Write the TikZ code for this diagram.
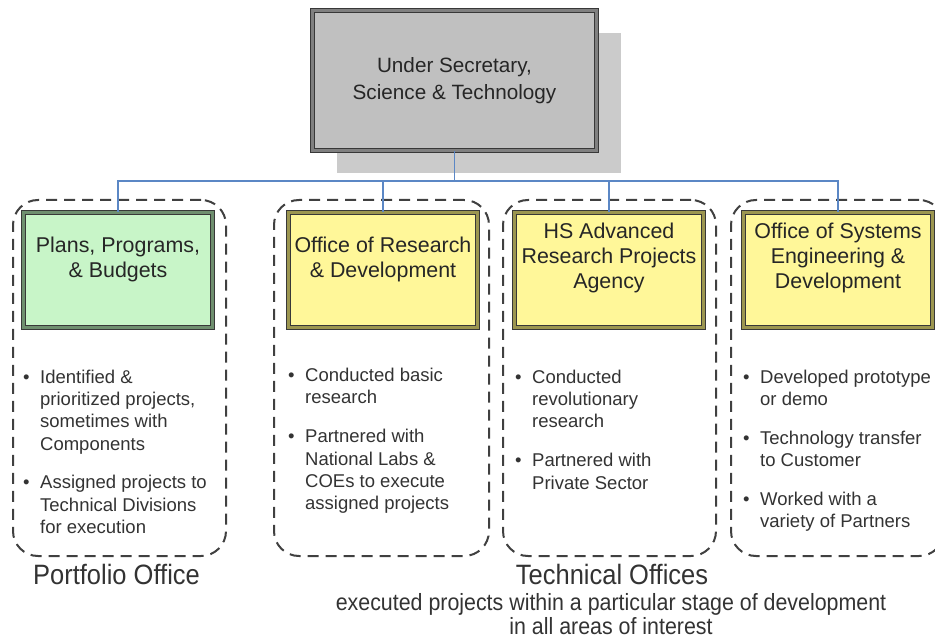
\documentclass[tikz,border=0pt]{standalone}
\usepackage{fontspec}
\setmainfont{Liberation Sans}
\newfontfamily\narrowfont[FakeStretch=0.91]{Liberation Sans}
\usetikzlibrary{shadows}
\definecolor{linkblue}{HTML}{5B87C5}
\definecolor{topfill}{HTML}{C0C0C0}
\definecolor{shadowgray}{HTML}{CBCBCB}
\definecolor{plangreen}{HTML}{C8F5C8}
\definecolor{planrim}{HTML}{6F8F6F}
\definecolor{techyellow}{HTML}{FFF799}
\definecolor{techrim}{HTML}{9C9650}
\definecolor{rimdark}{HTML}{383838}
\begin{document}
\begin{tikzpicture}[x=1pt,y=-1pt,
  office/.style={draw=rimdark,line width=1pt,double distance=3pt,minimum width=189pt,minimum height=115pt,inner sep=0pt},
  title/.style={align=center,font=\fontsize{21.4}{25}\selectfont,text=black!85},
  group/.style={draw=black!75,line width=2pt,dash pattern=on 11pt off 7pt,rounded corners=25pt,minimum width=213pt,minimum height=356pt,inner sep=0pt},
  duties/.style={anchor=base west,inner sep=0pt,font=\fontsize{18.5}{22.4}\selectfont,text=black!80},
  link/.style={draw=linkblue,line width=1.5pt},
  caption/.style={font=\narrowfont\fontsize{28}{30}\selectfont,text=black!80}]

  \clip (0,0) rectangle (935,639);
  \fill[white] (0,0) rectangle (935,639);

  % dashed groups
  \node[group] (g1) at (119.5,378) {};
  \node[group,minimum width=215pt] (g2) at (381.5,378) {};
  \node[group] (g3) at (609.5,378) {};
  \node[group] (g4) at (837.5,378) {};

  % head office
  \node[office,minimum width=284pt,minimum height=140pt,double=black!50,fill=topfill,
    drop shadow={shadow xshift=24pt,shadow yshift=-23pt,fill=shadowgray,opacity=1}] (usst) at (454.5,80.5) {};
  \node[title,font=\fontsize{20.7}{27}\selectfont] (usstname) at (454.5,80.5) {Under Secretary,\\Science \& Technology};

  % offices
  \node[office,fill=plangreen,double=planrim] (ppb) at (118,270) {};
  \node[office,fill=techyellow,double=techrim] (ord) at (383,270) {};
  \node[office,fill=techyellow,double=techrim] (arpa) at (609,270) {};
  \node[office,fill=techyellow,double=techrim] (osed) at (838,270) {};

  \path[link]
    (usst.south) -- ++(0,30) -| (ppb.north)
    (usst.south) -- ++(0,30) -| (ord.north)
    (usst.south) -- ++(0,30) -| (arpa.north)
    (usst.south) -- ++(0,30) -| (osed.north);

  \node[title] (ppbname) at (118,259) {Plans, Programs,\\\& Budgets};
  \node[title] (ordname) at (383,259) {Office of Research\\\& Development};
  \node[title] (arpaname) at (609,258) {HS Advanced\\Research Projects\\Agency};
  \node[title] (osedname) at (838,258) {Office of Systems\\Engineering \&\\Development};

  % duties
  \node[duties] (ppblist) at (23,383) {\begin{tabular}[t]{@{}l@{\hspace{10.5pt}}l@{}}
    \textbullet & Identified \&\\ & prioritized projects,\\ & sometimes with\\ & Components\\[16pt]
    \textbullet & Assigned projects to\\ & Technical Divisions\\ & for execution\end{tabular}};
  \node[duties] (ordlist) at (288,381) {\begin{tabular}[t]{@{}l@{\hspace{10.5pt}}l@{}}
    \textbullet & Conducted basic\\ & research\\[17pt]
    \textbullet & Partnered with\\ & National Labs \&\\ & COEs to execute\\ & assigned projects\end{tabular}};
  \node[duties] (arpalist) at (515,383) {\begin{tabular}[t]{@{}l@{\hspace{10.5pt}}l@{}}
    \textbullet & Conducted\\ & revolutionary\\ & research\\[16.5pt]
    \textbullet & Partnered with\\ & Private Sector\end{tabular}};
  \node[duties] (osedlist) at (743,383) {\begin{tabular}[t]{@{}l@{\hspace{10.5pt}}l@{}}
    \textbullet & Developed prototype\\ & or demo\\[16.5pt]
    \textbullet & Technology transfer\\ & to Customer\\[16pt]
    \textbullet & Worked with a\\ & variety of Partners\end{tabular}};

  % captions
  \node[caption] (portfolio) at (116.5,574) {Portfolio Office};
  \node[caption] (technical) at (612,574) {Technical Offices};
  \node[caption,align=center,font=\narrowfont\fontsize{23.5}{23.5}\selectfont] (technote) at (611,614)
    {executed projects within a particular stage of development\\in all areas of interest};
\end{tikzpicture}
\end{document}
